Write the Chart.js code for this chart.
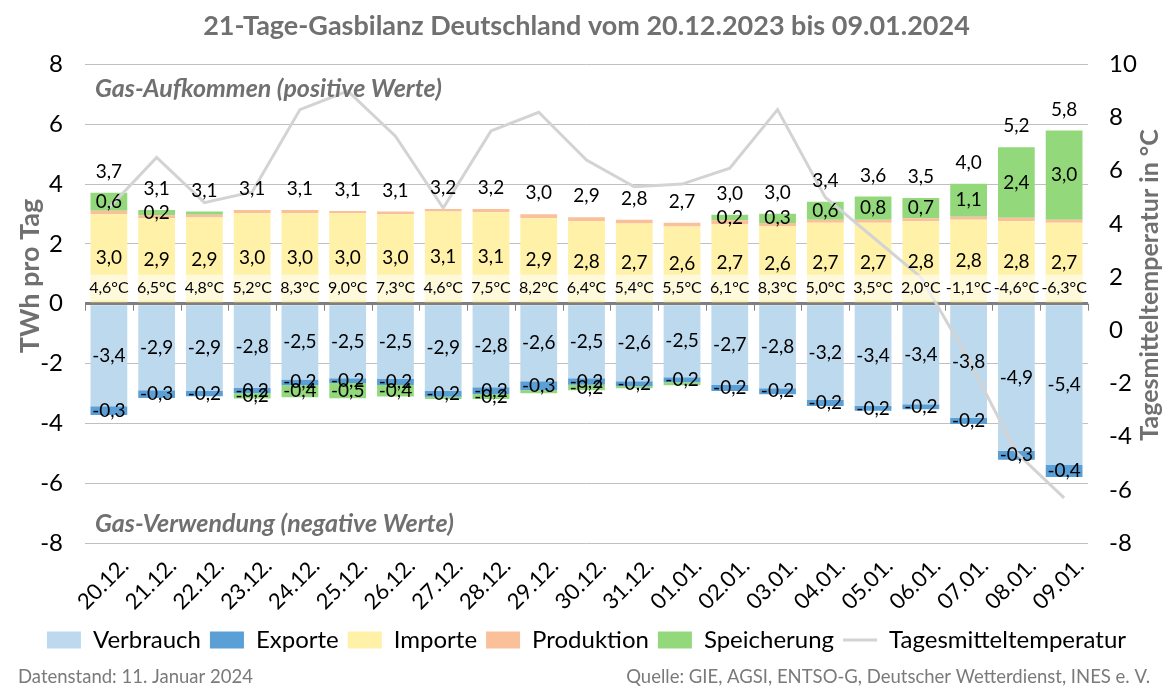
<!DOCTYPE html>
<html>
<head>
<meta charset="utf-8">
<script src="https://cdn.jsdelivr.net/npm/chart.js@4.4.0/dist/chart.umd.min.js"></script>
<style>
  body { margin: 0; background: #fff; }
  canvas { display: block; }
</style>
</head>
<body>
<canvas id="gas-chart" width="1175" height="698"></canvas>
<script>
const labels = ['20.12.', '21.12.', '22.12.', '23.12.', '24.12.', '25.12.', '26.12.', '27.12.', '28.12.', '29.12.', '30.12.',
  '31.12.', '01.01.', '02.01.', '03.01.', '04.01.', '05.01.', '06.01.', '07.01.', '08.01.', '09.01.'];

// TWh pro Tag
const verbrauch = [-3.43, -2.89, -2.92, -2.82, -2.53, -2.49, -2.52, -2.92, -2.79, -2.59, -2.49, -2.59, -2.46, -2.72, -2.83, -3.22, -3.42, -3.36, -3.82, -4.92, -5.39];
const exporte = [-0.29, -0.26, -0.17, -0.17, -0.20, -0.16, -0.20, -0.19, -0.23, -0.30, -0.22, -0.17, -0.17, -0.20, -0.20, -0.20, -0.16, -0.17, -0.20, -0.30, -0.40];
const importe = [3.00, 2.86, 2.88, 3.02, 3.02, 3.02, 2.99, 3.08, 3.06, 2.86, 2.76, 2.68, 2.58, 2.66, 2.60, 2.71, 2.71, 2.76, 2.81, 2.76, 2.71];
const produktion = [0.11, 0.10, 0.09, 0.11, 0.11, 0.08, 0.09, 0.09, 0.11, 0.13, 0.13, 0.13, 0.13, 0.13, 0.10, 0.10, 0.10, 0.10, 0.10, 0.11, 0.10];
const speicherung = [0.60, 0.17, 0.11, -0.18, -0.40, -0.51, -0.38, -0.08, -0.17, -0.10, -0.18, -0.07, -0.10, 0.18, 0.31, 0.60, 0.77, 0.67, 1.10, 2.36, 2.98];
// °C
const temperatur = [4.6, 6.5, 4.8, 5.2, 8.3, 9.0, 7.3, 4.6, 7.5, 8.2, 6.4, 5.4, 5.5, 6.1, 8.3, 5.0, 3.5, 2.0, -1.1, -4.6, -6.3];

const fontFamily = 'Lato, "Open Sans", sans-serif';
const grey = '#707070';
const fmt = v => v.toFixed(1).replace('.', ',');

// Beschriftungen, die Chart.js nicht selbst zeichnet
const gasLabels = {
  id: 'gasLabels',
  afterDatasetsDraw(chart) {
    const ctx = chart.ctx;
    const area = chart.chartArea;
    const y0 = chart.scales.y.getPixelForValue(0);
    ctx.save();

    // kleine Striche an der Nulllinie
    const step = (area.right - area.left) / labels.length;
    ctx.strokeStyle = '#808080';
    ctx.lineWidth = 1;
    for (let k = 0; k <= labels.length; k++) {
      const x = Math.round(area.left + k * step) + 0.5;
      ctx.beginPath();
      ctx.moveTo(x, y0);
      ctx.lineTo(x, y0 + 7);
      ctx.stroke();
    }

    ctx.textAlign = 'center';
    ctx.textBaseline = 'middle';

    // Temperatur-Band unten in den Balken
    const importMeta = chart.getDatasetMeta(2);
    importMeta.data.forEach((bar, i) => {
      ctx.fillStyle = 'rgba(255,255,255,0.6)';
      ctx.fillRect(bar.x - bar.width / 2, y0 - 29, bar.width, 26);
      ctx.fillStyle = '#000';
      ctx.font = '16px ' + fontFamily;
      ctx.fillText(fmt(temperatur[i]) + '°C', bar.x, y0 - 16);
    });

    // Werte in den Segmenten
    ctx.font = '19px ' + fontFamily;
    ctx.fillStyle = '#000';
    [0, 1, 2, 4].forEach(di => {
      const values = chart.data.datasets[di].data;
      chart.getDatasetMeta(di).data.forEach((bar, i) => {
        if (Math.abs(values[i]) < 0.15) return;
        ctx.fillText(fmt(values[i]), bar.x, (bar.y + bar.base) / 2);
      });
    });

    // Summen oberhalb der Balken
    importMeta.data.forEach((bar, i) => {
      const total = importe[i] + produktion[i] + Math.max(speicherung[i], 0);
      const top = chart.scales.y.getPixelForValue(total);
      ctx.fillText(fmt(total), bar.x, top - 21);
    });

    // Hinweise im Diagramm
    ctx.textAlign = 'left';
    ctx.fillStyle = grey;
    ctx.font = 'italic bold 25px ' + fontFamily;
    ctx.fillText('Gas-Aufkommen (positive Werte)', 95, 89);
    ctx.fillText('Gas-Verwendung (negative Werte)', 95, 524);
    ctx.restore();
  },
  afterDraw(chart) {
    const ctx = chart.ctx;
    ctx.save();
    ctx.fillStyle = grey;
    ctx.textBaseline = 'middle';
    ctx.textAlign = 'center';

    // Achsentitel
    ctx.font = 'bold 27px ' + fontFamily;
    ctx.save();
    ctx.translate(30, 276);
    ctx.rotate(-Math.PI / 2);
    ctx.fillText('TWh pro Tag', 0, 0);
    ctx.restore();

    ctx.font = 'bold 25px ' + fontFamily;
    ctx.save();
    ctx.translate(1150, 285);
    ctx.rotate(-Math.PI / 2);
    ctx.fillText('Tagesmitteltemperatur in °C', 0, 0);
    ctx.restore();

    // Fußzeile
    ctx.font = '18.5px ' + fontFamily;
    ctx.fillStyle = '#7a7a7a';
    ctx.textAlign = 'left';
    ctx.fillText('Datenstand: 11. Januar 2024', 18, 677);
    ctx.textAlign = 'right';
    ctx.fillText('Quelle: GIE, AGSI, ENTSO-G, Deutscher Wetterdienst, INES e. V.', 1150, 677);
    ctx.restore();
  }
};

const barBase = { type: 'bar', stack: 'gas', yAxisID: 'y', order: 1, barPercentage: 0.77, categoryPercentage: 1, borderWidth: 0 };

const data = {
  labels: labels,
  datasets: [
    { ...barBase, label: 'Verbrauch', data: verbrauch, backgroundColor: '#bdd9ee' },
    { ...barBase, label: 'Exporte', data: exporte, backgroundColor: '#5a9fd6' },
    { ...barBase, label: 'Importe', data: importe, backgroundColor: '#fff1a8' },
    { ...barBase, label: 'Produktion', data: produktion, backgroundColor: '#f9c09a' },
    { ...barBase, label: 'Speicherung', data: speicherung, backgroundColor: '#93d97c' },
    {
      type: 'line',
      label: 'Tagesmitteltemperatur',
      data: temperatur,
      yAxisID: 'y1',
      order: 0,
      borderColor: '#d3d3d3',
      backgroundColor: '#d3d3d3',
      borderWidth: 3,
      pointRadius: 0,
      tension: 0
    }
  ]
};

const config = {
  type: 'bar',
  data: data,
  options: {
    responsive: false,
    animation: false,
    layout: { padding: { left: 8, right: 10, top: 0, bottom: 36 } },
    plugins: {
      tooltip: { enabled: false },
      title: {
        display: true,
        text: '21-Tage-Gasbilanz Deutschland vom 20.12.2023 bis 09.01.2024',
        color: grey,
        font: { family: fontFamily, size: 27, weight: 'bold' },
        padding: { top: 10, bottom: 22 }
      },
      legend: {
        position: 'bottom',
        labels: {
          color: '#000',
          font: { family: fontFamily, size: 24 },
          usePointStyle: true,
          pointStyleWidth: 34,
          boxHeight: 17,
          padding: 9,
          sort: (a, b) => a.datasetIndex - b.datasetIndex,
          generateLabels(chart) {
            const items = Chart.defaults.plugins.legend.labels.generateLabels(chart);
            return items.map(item => {
              const ds = chart.data.datasets[item.datasetIndex];
              if (ds.type === 'line') {
                item.pointStyle = 'line';
                item.strokeStyle = '#d3d3d3';
                item.lineWidth = 3;
              } else {
                item.pointStyle = 'rect';
                item.lineWidth = 0;
              }
              return item;
            });
          }
        }
      }
    },
    scales: {
      x: {
        grid: { display: false },
        border: { display: false },
        ticks: {
          color: '#000',
          font: { family: fontFamily, size: 22 },
          maxRotation: 45,
          minRotation: 45,
          padding: 2,
          labelOffset: 16
        },
        afterFit(scale) { scale.height = 76; }
      },
      y: {
        position: 'left',
        min: -8,
        max: 8,
        border: { display: false },
        grid: {
          drawTicks: false,
          color: c => c.tick.value === 0 ? '#7f7f7f' : '#c0c0c0',
          lineWidth: c => c.tick.value === 0 ? 3 : 1
        },
        ticks: {
          stepSize: 2,
          color: '#000',
          padding: 22,
          font: { family: fontFamily, size: 24 }
        },
        afterFit(scale) { scale.width = 77; }
      },
      y1: {
        position: 'right',
        min: -8,
        max: 10,
        border: { display: false },
        grid: { display: false, drawOnChartArea: false },
        ticks: {
          stepSize: 2,
          color: '#000',
          padding: 13,
          font: { family: fontFamily, size: 24 }
        },
        afterFit(scale) { scale.width = 77; }
      }
    }
  },
  plugins: [gasLabels]
};

new Chart(document.getElementById('gas-chart'), config);
</script>
</body>
</html>
